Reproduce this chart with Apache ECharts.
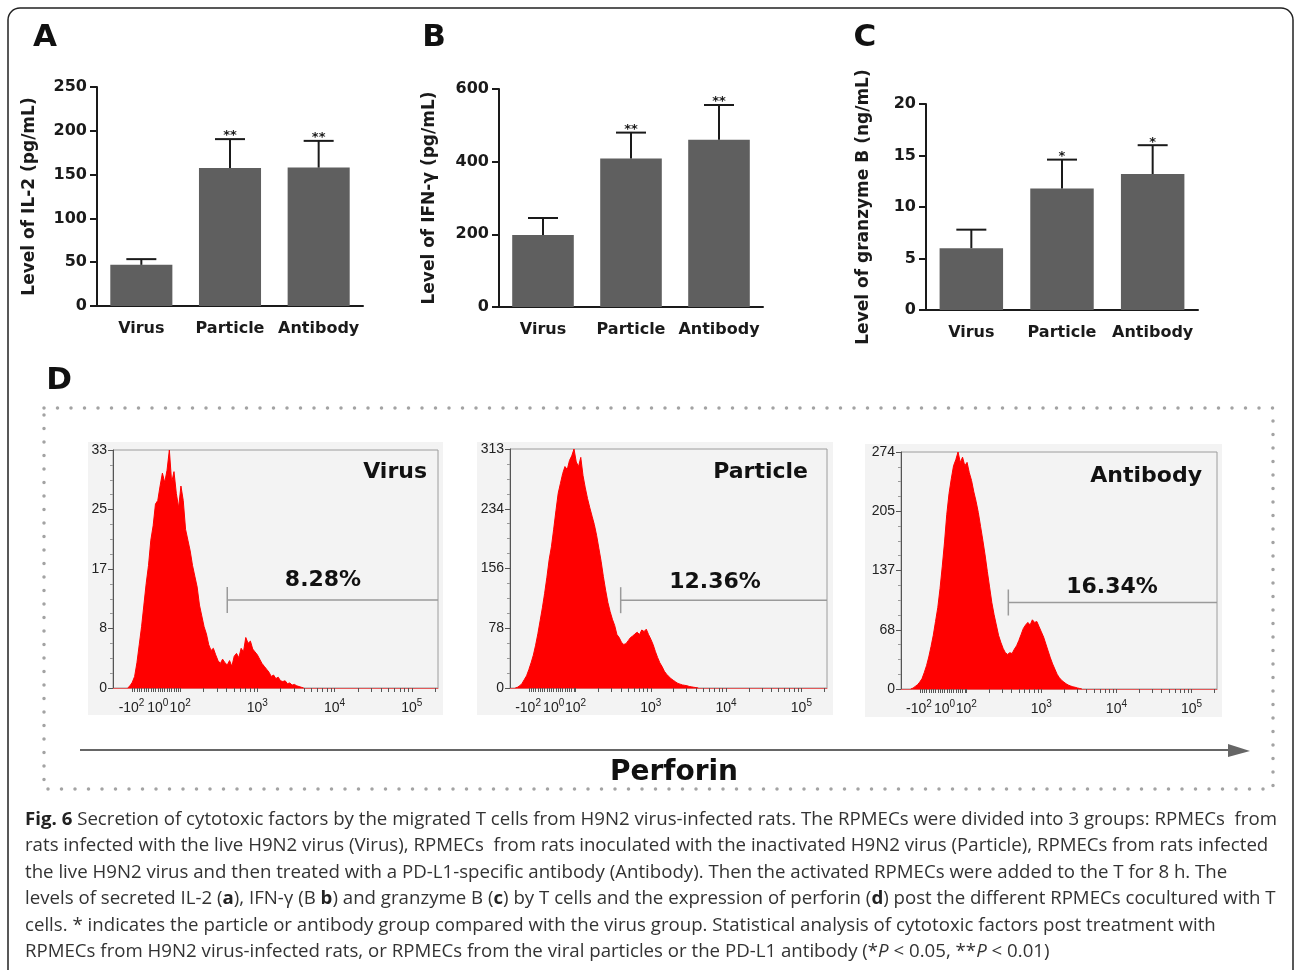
<!DOCTYPE html>
<html>
<head>
<meta charset="utf-8">
<script src="https://cdn.jsdelivr.net/npm/echarts@6/dist/echarts.min.js"></script>
<style>
html, body { margin: 0; padding: 0; background: #fff; }
#chart { position: absolute; left: 0; top: 0; width: 1295px; height: 970px; }
#caption { position: absolute; left: 25px; top: 805px; font-family: "Open Sans", sans-serif; font-size: 18px;
  line-height: 26.4px; color: #333; transform-origin: 0 0; }
#caption .ln { white-space: nowrap; width: max-content; }
#caption b { font-weight: 700; color: #222; }
</style>
</head>
<body>
<div id="chart"></div>
<div id="caption">
  <div class="ln"><b>Fig. 6</b> Secretion of cytotoxic factors by the migrated T cells from H9N2 virus-infected rats. The RPMECs were divided into 3 groups: RPMECs&nbsp; from</div>
  <div class="ln">rats infected with the live H9N2 virus (Virus), RPMECs&nbsp; from rats inoculated with the inactivated H9N2 virus (Particle), RPMECs from rats infected</div>
  <div class="ln">the live H9N2 virus and then treated with a PD-L1-specific antibody (Antibody). Then the activated RPMECs were added to the T for 8 h. The</div>
  <div class="ln">levels of secreted IL-2 (<b>a</b>), IFN-γ (B <b>b</b>) and granzyme B (<b>c</b>) by T cells and the expression of perforin (<b>d</b>) post the different RPMECs cocultured with T</div>
  <div class="ln">cells. * indicates the particle or antibody group compared with the virus group. Statistical analysis of cytotoxic factors post treatment with</div>
  <div class="ln">RPMECs from H9N2 virus-infected rats, or RPMECs from the viral particles or the PD-L1 antibody (*<i>P</i> &lt; 0.05, **<i>P</i> &lt; 0.01)</div>
</div>
<script>
// groups shared by the three bar panels
const groups = ['Virus', 'Particle', 'Antibody'];

// A: IL-2 (pg/mL)
const il2Mean = [47, 157.5, 158];
const il2Sd = [6.5, 33, 30.5];
const il2Sig = ['', '**', '**'];

// B: IFN-γ (pg/mL)
const ifnMean = [198, 409, 460];
const ifnSd = [47, 71, 96];
const ifnSig = ['', '**', '**'];

// C: granzyme B (ng/mL)
const grzMean = [6.0, 11.8, 13.2];
const grzSd = [1.8, 2.8, 2.8];
const grzSig = ['', '*', '*'];

// D: perforin histograms, bins on the display (log) scale
const binStep = 0.03;
const virusStart = 1.32;
const virusCounts = [0, 0.3, 0.8, 1.6, 3.5, 6.0, 8.5, 11.5, 14.5, 17.0, 20.5, 22.5, 25.5, 26.0, 28.0, 29.8,
  28.5, 30.2, 33.0, 28.5, 30.0, 27.0, 25.0, 28.0, 26.0, 22.0, 20.5, 19.0, 17.0, 15.5, 14.0, 11.5, 10.0, 8.5,
  7.5, 6.0, 5.2, 5.5, 4.6, 3.8, 3.4, 4.0, 3.5, 3.2, 3.8, 3.0, 4.4, 4.8, 4.2, 5.5, 5.0, 7.0, 6.2, 6.5, 5.4,
  5.0, 4.6, 4.0, 3.4, 3.0, 2.6, 2.2, 1.6, 1.8, 1.3, 1.5, 1.0, 0.9, 1.0, 0.6, 0.7, 0.4, 0.5, 0.3, 0.2, 0.1, 0];
const particleStart = 1.20;
const particleCounts = [0, 1, 3, 6, 11, 16, 24, 33, 43, 56, 71, 88, 105, 124, 145, 168, 185, 208, 232, 255,
  268, 281, 290, 286, 298, 304, 313, 296, 290, 302, 278, 262, 248, 236, 225, 214, 200, 183, 166, 146, 128,
  112, 100, 90, 82, 70, 66, 60, 57, 58, 62, 66, 68, 71, 73, 70, 76, 74, 77, 70, 64, 57, 48, 40, 33, 28, 22,
  18, 15, 12, 10, 8, 6, 5, 4, 3.5, 3, 2, 1.5, 1, 0.5, 0];
const antibodyStart = 1.26;
const antibodyCounts = [0, 1, 3, 5, 8, 12, 19, 27, 37, 49, 62, 78, 94, 116, 142, 170, 202, 226, 243, 258,
  265, 274, 262, 268, 258, 262, 250, 241, 228, 217, 204, 188, 172, 155, 136, 118, 100, 86, 74, 62, 54, 47,
  42, 40, 42, 41, 46, 50, 56, 63, 70, 74, 77, 74, 80, 77, 78, 72, 66, 60, 52, 44, 36, 29, 23, 17, 13, 10, 8,
  6, 4.5, 3.5, 2.5, 2, 1.2, 0.6, 0];

const virusYLabels = [0, 8, 17, 25, 33];
const particleYLabels = [0, 78, 156, 234, 313];
const antibodyYLabels = [0, 68, 137, 205, 274];

// gate marker: start (display scale) and height (count)
const gateStart = [2.61, 2.60, 2.56];
const gateCount = [12.2, 115, 100];
const gatePercent = ['8.28%', '12.36%', '16.34%'];

// x tick labels of the flow axis
const xLabelPos = [1.37, 1.71, 2, 3, 4, 5];
const xLabelBase = ['-10', '10', '10', '10', '10', '10'];
const xLabelExp = ['2', '0', '2', '3', '4', '5'];
const xMin = 1.13, xMax = 5.34;

const xTickPos = [];
for (let i = 0; i < 21; i++) xTickPos.push(1.38 + i * 0.03);
[2, 3, 4].forEach(d => { for (let k = 1; k < 10; k++) xTickPos.push(d + Math.log10(k)); });
xTickPos.push(5, 5 + Math.log10(2));

const BOLD = '"DejaVu Sans", sans-serif';
const LABEL = 'Arial, "Liberation Sans", sans-serif';
const INK = '#1a1a1a';

const grids = [], xAxes = [], yAxes = [], series = [];

function addBarPanel(rect, mean, sd, sig, yMax, yInt, yName, nameGap) {
  const gi = grids.length;
  grids.push({ left: rect[0], top: rect[1], width: rect[2], height: rect[3] });
  xAxes.push({
    gridIndex: gi, type: 'category', data: groups,
    axisLine: { lineStyle: { color: INK, width: 2 } },
    axisTick: { alignWithLabel: true, length: 7, lineStyle: { color: INK, width: 2 } },
    axisLabel: { interval: 0, fontFamily: BOLD, fontWeight: 'bold', fontSize: 16, color: INK, margin: 15 }
  });
  yAxes.push({
    gridIndex: gi, type: 'value', min: 0, max: yMax, interval: yInt,
    name: yName, nameLocation: 'middle', nameGap: nameGap,
    nameTextStyle: { fontFamily: BOLD, fontWeight: 'bold', fontSize: 17, color: INK },
    axisLine: { show: true, lineStyle: { color: INK, width: 2 } },
    axisTick: { show: true, length: 7, lineStyle: { color: INK, width: 2 } },
    axisLabel: { fontFamily: BOLD, fontWeight: 'bold', fontSize: 16, color: INK, margin: 10 },
    splitLine: { show: false }
  });
  series.push({
    type: 'bar', xAxisIndex: gi, yAxisIndex: gi, data: mean, barWidth: '70%',
    itemStyle: { color: '#5f5f5f' }, silent: true
  });
  series.push({
    type: 'custom', xAxisIndex: gi, yAxisIndex: gi, z: 3, silent: true,
    data: mean.map((m, i) => [i, m, sd[i]]),
    encode: { x: 0, y: 1 },
    renderItem: (params, api) => {
      const i = api.value(0);
      const base = api.coord([i, api.value(1)]);
      const top = api.coord([i, api.value(1) + api.value(2)]);
      const children = [
        { type: 'line', shape: { x1: base[0], y1: base[1], x2: top[0], y2: top[1] }, style: { stroke: INK, lineWidth: 2 } },
        { type: 'line', shape: { x1: top[0] - 15, y1: top[1], x2: top[0] + 15, y2: top[1] }, style: { stroke: INK, lineWidth: 2 } }
      ];
      const s = sig[params.dataIndex];
      if (s) {
        children.push({ type: 'text', style: { text: s, x: top[0], y: top[1] - 3, align: 'center',
          verticalAlign: 'middle', font: 'bold 13px "DejaVu Sans"', fill: INK } });
      }
      return { type: 'group', children };
    }
  });
}

function addHistPanel(rect, start, counts, yLabels, gi2) {
  const gi = grids.length;
  const yMax = yLabels[yLabels.length - 1];
  const yInt = yMax / 4;
  grids.push({ left: rect[0], top: rect[1], width: rect[2], height: rect[3],
    show: true, borderColor: '#9c9c9c', borderWidth: 1, backgroundColor: 'transparent' });
  xAxes.push({
    gridIndex: gi, type: 'value', min: xMin, max: xMax,
    axisLine: { lineStyle: { color: '#e25a5a', width: 1 } },
    axisTick: { show: true, customValues: xTickPos, length: 4, lineStyle: { color: '#555' } },
    axisLabel: {
      customValues: xLabelPos, margin: 10,
      formatter: v => {
        const i = xLabelPos.findIndex(p => Math.abs(p - v) < 1e-6);
        return i < 0 ? '' : '{b|' + xLabelBase[i] + '}{s|' + xLabelExp[i] + '}';
      },
      rich: {
        b: { fontFamily: LABEL, fontSize: 14, lineHeight: 21, color: '#222' },
        s: { fontFamily: LABEL, fontSize: 10, lineHeight: 11, verticalAlign: 'top', color: '#222' }
      }
    },
    splitLine: { show: false }
  });
  yAxes.push({
    gridIndex: gi, type: 'value', min: 0, max: yMax, interval: yInt,
    axisLine: { show: true, lineStyle: { color: '#555', width: 1 } },
    axisTick: { show: true, length: 5, lineStyle: { color: '#555' } },
    minorTick: { show: true, splitNumber: 4, length: 3, lineStyle: { color: '#999' } },
    axisLabel: { fontFamily: LABEL, fontSize: 14, color: '#222', margin: 6,
      formatter: v => String(yLabels[Math.round(v / yInt)]) },
    splitLine: { show: false }, minorSplitLine: { show: false }
  });
  series.push({
    type: 'line', xAxisIndex: gi, yAxisIndex: gi, symbol: 'none', silent: true,
    data: counts.map((c, i) => [start + i * binStep, c]),
    lineStyle: { color: '#f00', width: 1 },
    areaStyle: { color: '#f00', opacity: 1 }
  });
  series.push({
    type: 'custom', xAxisIndex: gi, yAxisIndex: gi, z: 3, silent: true,
    data: [[gateStart[gi2], gateCount[gi2]]],
    renderItem: (params, api) => {
      const p = api.coord([api.value(0), api.value(1)]);
      const right = params.coordSys.x + params.coordSys.width;
      return { type: 'group', children: [
        { type: 'line', shape: { x1: p[0], y1: p[1], x2: right, y2: p[1] }, style: { stroke: '#9a9a9a', lineWidth: 1.5 } },
        { type: 'line', shape: { x1: p[0], y1: p[1] - 13, x2: p[0], y2: p[1] + 13 }, style: { stroke: '#9a9a9a', lineWidth: 1.5 } }
      ] };
    }
  });
}

addBarPanel([97, 87, 266, 219], il2Mean, il2Sd, il2Sig, 250, 50, 'Level of IL-2 (pg/mL)', 59);
addBarPanel([499, 89, 264, 218], ifnMean, ifnSd, ifnSig, 600, 200, 'Level of IFN-γ (pg/mL)', 61);
addBarPanel([926, 104, 272, 206], grzMean, grzSd, grzSig, 20, 5, 'Level of granzyme B (ng/mL)', 54);
addHistPanel([113, 450, 325, 238], virusStart, virusCounts, virusYLabels, 0);
addHistPanel([510, 449, 317, 239], particleStart, particleCounts, particleYLabels, 1);
addHistPanel([901, 452, 316, 237], antibodyStart, antibodyCounts, antibodyYLabels, 2);

function txt(text, x, y, size, align) {
  return { type: 'text', z: 100, style: { text, x, y, font: 'bold ' + size + 'px "DejaVu Sans"',
    fill: '#111', align: align || 'center', verticalAlign: 'middle' } };
}

const graphic = [
  // outer frame
  { type: 'rect', z: -20, shape: { x: 8, y: 8, width: 1285, height: 985, r: 12 },
    style: { fill: 'none', stroke: '#222', lineWidth: 1.5 } },
  // flow panel backgrounds
  { type: 'rect', z: -10, shape: { x: 88, y: 442, width: 355, height: 273 }, style: { fill: '#f3f3f3' } },
  { type: 'rect', z: -10, shape: { x: 477, y: 442, width: 356, height: 273 }, style: { fill: '#f3f3f3' } },
  { type: 'rect', z: -10, shape: { x: 865, y: 444, width: 357, height: 273 }, style: { fill: '#f3f3f3' } },
  // dotted frame of D
  { type: 'rect', z: -5, shape: { x: 44, y: 408, width: 1229, height: 381 },
    style: { fill: 'none', stroke: '#a3a3a3', lineWidth: 3.5, lineDash: [0, 13.5], lineCap: 'round' } },
  // perforin arrow
  { type: 'line', z: 5, shape: { x1: 80, y1: 750, x2: 1234, y2: 750 }, style: { stroke: '#666', lineWidth: 2 } },
  { type: 'polygon', z: 5, shape: { points: [[1228, 744], [1250, 751], [1228, 757]] }, style: { fill: '#666' } },
  txt('Perforin', 674, 773, 28),
  txt('A', 45, 38, 31), txt('B', 434, 38, 31), txt('C', 865, 38, 31), txt('D', 59, 381, 31),
  txt('Virus', 427, 472, 22, 'right'), txt('Particle', 808, 472, 22, 'right'), txt('Antibody', 1202, 476, 22, 'right'),
  txt(gatePercent[0], 323, 580, 22), txt(gatePercent[1], 715, 582, 22), txt(gatePercent[2], 1112, 587, 22)
];

const chart = echarts.init(document.getElementById('chart'));
chart.setOption({
  animation: false,
  backgroundColor: '#fff',
  grid: grids, xAxis: xAxes, yAxis: yAxes, series: series, graphic: graphic
});

// fit caption lines to the printed width
const cap = document.getElementById('caption');
const w = cap.querySelector('.ln').getBoundingClientRect().width;
cap.style.transform = 'scaleX(' + (1252 / w) + ')';
</script>
</body>
</html>
